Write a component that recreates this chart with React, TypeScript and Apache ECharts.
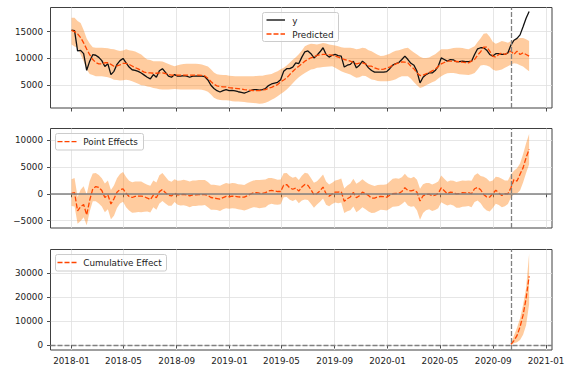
import React, { useEffect, useRef } from "react";
import * as echarts from "echarts";

// ---------- data (weekly, starting 2018-01-01) ----------
const START_DATE = "2018-01-01";
const INTERVENTION_DATE = "2020-10-12";
const X_TICK_LABELS = ["2018-01", "2018-05", "2018-09", "2019-01", "2019-05", "2019-09", "2020-01", "2020-05", "2020-09", "2021-01"];
const Y1_TICKS = [5000, 10000, 15000];
const Y2_TICKS = [-5000, 0, 5000, 10000];
const Y3_TICKS = [0, 10000, 20000, 30000];

const OBSERVED = [
  15300, 15200, 11400, 11500, 10900, 7800, 9500, 10700, 10600, 10200,
  9600, 8500, 9000, 7000, 7600, 8900, 9600, 10000, 9200, 8400,
  7900, 7800, 7600, 7300, 6900, 6500, 6200, 7000, 6500, 7700,
  8100, 7400, 6700, 6500, 7000, 6700, 6700, 6800, 6700, 6500,
  6700, 6700, 6750, 6700, 6600, 6000, 5000, 4400, 4000, 3750,
  4000, 4200, 4000, 4050, 3950, 3800, 3700, 3550, 3750, 4000,
  4200, 4200, 4100, 4200, 4400, 4950, 5250, 5400, 5550, 6050,
  7600, 8100, 8100, 8400, 9200, 9050, 10250, 11250, 11400, 10900,
  10100, 10600, 11250, 12000, 10750, 10250, 10600, 10750, 10550, 10450,
  8400, 8750, 8900, 9500, 8250, 8750, 9500, 9000, 8250, 7750,
  7450, 7450, 7450, 7450, 7550, 8100, 8750, 9050, 9250, 9800,
  10450, 9800, 9100, 8750, 7600, 5450, 6500, 7000, 7300, 7300,
  7750, 8550, 10100, 9800, 9500, 9800, 9750, 9400, 9400, 9500,
  9400, 9400, 9500, 10750, 11800, 12000, 12000, 11550, 10750, 10450,
  10900, 10900, 10750, 10750, 11050, 12500, 13400, 13750, 14400, 15900,
  17500, 18750,
];

const PREDICTED = [
  15250, 15000, 14600, 13900, 12900, 11750, 10700, 9800, 9250, 9000,
  9000, 9200, 9200, 8900, 8550, 8600, 8800, 9100, 9100, 8900,
  8600, 8300, 8050, 7750, 7450, 7300, 7300, 7250, 7250, 7300,
  7300, 7200, 7000, 6900, 6900, 6900, 6900, 6900, 6900, 6900,
  6900, 6900, 6900, 6850, 6750, 6300, 5700, 5200, 4900, 4750,
  4720, 4690, 4560, 4500, 4440, 4380, 4310, 4190, 4130, 4060,
  4030, 4000, 4000, 4130, 4190, 4440, 4630, 4880, 5130, 5630,
  6000, 6380, 7000, 7560, 8130, 8560, 9000, 9500, 9810, 10130,
  10310, 10560, 10690, 10750, 10750, 10690, 10630, 10440, 10250, 10060,
  9810, 9690, 9500, 9250, 9000, 9130, 9190, 9000, 8560, 8560,
  8250, 8060, 7940, 8000, 8190, 8380, 8750, 9000, 9190, 9380,
  9310, 9190, 8560, 8060, 7310, 6810, 6880, 7130, 7380, 7690,
  8000, 8500, 9000, 9250, 9500, 9500, 9500, 9440, 9380, 9310,
  9250, 9190, 9500, 9810, 10630, 11250, 12130, 12130, 11380, 10440,
  10250, 10750, 11060, 10750, 11060, 11380, 10750, 11380, 10750, 11060,
  10750, 10440,
];

const PRED_UPPER = [
  17600, 17600, 17000, 16600, 15300, 13700, 12800, 12100, 12000, 12000,
  12000, 11950, 11900, 11750, 11700, 11550, 11400, 11500, 11700, 11550,
  11450, 11300, 11000, 10750, 10250, 9800, 9700, 9500, 9500, 9500,
  9450, 9200, 8950, 8750, 8550, 8750, 8900, 8950, 9000, 9000,
  9000, 9000, 8950, 8900, 8700, 8500, 8000, 7400, 7050, 6950,
  6900, 6900, 6800, 6750, 6700, 6700, 6700, 6700, 6700, 6700,
  6700, 6750, 6800, 6800, 6900, 7000, 7100, 7400, 7600, 8000,
  8250, 8700, 9200, 9750, 10250, 10800, 11500, 12300, 12550, 12750,
  12700, 12600, 12750, 12900, 12800, 12600, 12500, 12400, 12300, 12100,
  12000, 12000, 12000, 11900, 11700, 11800, 12000, 11900, 11550, 11350,
  11000, 10700, 10450, 10500, 10700, 10900, 11200, 11450, 11550, 11700,
  11900, 12000, 11550, 11100, 10750, 10300, 10100, 10100, 10200, 10500,
  10800, 11250, 11700, 11700, 11700, 11800, 11950, 12000, 12000, 11950,
  11800, 11700, 12000, 12300, 13050, 13750, 14600, 14700, 14050, 13100,
  12750, 13000, 13250, 13100, 12950, 13200, 13500, 13700, 13800, 13800,
  13600, 13250,
];

const PRED_LOWER = [
  12600, 12250, 12000, 10750, 9500, 7950, 7100, 6900, 6700, 6700,
  6700, 6600, 6500, 6300, 6050, 6000, 5900, 5950, 6050, 5950,
  5750, 5500, 5300, 5000, 4950, 4800, 4700, 4500, 4400, 4250,
  4200, 4200, 4200, 4250, 4300, 4250, 4200, 4200, 4200, 4200,
  4200, 4200, 4200, 4150, 4050, 3800, 3300, 2700, 2400, 2250,
  2200, 2200, 2150, 2050, 2000, 2000, 1950, 1900, 1800, 1750,
  1700, 1650, 1550, 1600, 1750, 2000, 2300, 2600, 2950, 3400,
  3750, 4200, 4800, 5400, 6000, 6500, 6900, 7300, 7600, 7950,
  8050, 8250, 8300, 8400, 8450, 8500, 8550, 8250, 7950, 7600,
  7400, 7200, 7000, 6700, 6400, 6500, 6800, 6750, 6400, 6100,
  6000, 5800, 5750, 5750, 5750, 5800, 5950, 6150, 6450, 6700,
  6700, 6700, 6200, 5550, 5000, 4500, 4700, 5000, 5300, 5550,
  5800, 6250, 6700, 7000, 7250, 7300, 7300, 7200, 7050, 7000,
  6950, 6900, 7050, 7300, 7950, 8700, 8800, 8700, 8450, 7950,
  7700, 7800, 7950, 8250, 8550, 8900, 9100, 9000, 8750, 8500,
  8050, 7600,
];

// cumulative effect over the post-intervention weeks
const CUMULATIVE = [300, 1800, 3900, 7500, 12400, 19400, 28600];
const CUMULATIVE_UPPER = [600, 3900, 7200, 11000, 16600, 23700, 38000];
const CUMULATIVE_LOWER = [0, 700, 1100, 2100, 4200, 8200, 17000];

// ---------- helpers ----------
const DAY = 86400000;
const parseUTC = (s: string) => {
  const [y, m, d] = s.split("-").map(Number);
  return Date.UTC(y, m - 1, d || 1);
};
const START_TS = parseUTC(START_DATE);
const DATES = OBSERVED.map((_, i) => START_TS + i * 7 * DAY);
const INTERVENTION_TS = parseUTC(INTERVENTION_DATE);
const POST_START = DATES.findIndex((t) => t >= INTERVENTION_TS);
const POST_DATES = DATES.slice(POST_START);
const X_TICKS = X_TICK_LABELS.map((s) => parseUTC(s));

// point effects: observed minus prediction (and its interval)
const EFFECT = OBSERVED.map((v, i) => v - PREDICTED[i]);
const EFFECT_LOWER = OBSERVED.map((v, i) => v - PRED_UPPER[i]);
const EFFECT_UPPER = OBSERVED.map((v, i) => v - PRED_LOWER[i]);

const X_MIN = START_TS - 48.56 * DAY;
const X_MAX = START_TS + 1109.84 * DAY;

const FONT = "DejaVu Sans";
const FS = 8.8;
const TEXT_COLOR = "#222";
const GRID_COLOR = "#dfdfdf";
const BAND_COLOR = "rgba(255,127,14,0.4)";
const PRED_COLOR = "#ff4500";
const GRAY = "#808080";
const DASH = [5, 2];

const fmtY = (v: number) => (v < 0 ? "\u2212" + Math.abs(v) : String(v));

const pair = (xs: number[], ys: number[]) => xs.map((x, i) => [x, ys[i]]);

function xAxisFor(idx: number) {
  return {
    type: "value",
    gridIndex: idx,
    min: X_MIN,
    max: X_MAX,
    axisLine: { show: false },
    axisTick: { show: true, customValues: X_TICKS, length: 3.5, lineStyle: { color: TEXT_COLOR, width: 0.8 } },
    axisLabel: {
      show: idx === 2,
      customValues: X_TICKS,
      margin: 6,
      fontSize: FS,
      fontFamily: FONT,
      color: TEXT_COLOR,
      formatter: (v: number) => {
        const k = X_TICKS.indexOf(v);
        return k >= 0 ? X_TICK_LABELS[k] : "";
      },
    },
    splitLine: { show: true, lineStyle: { color: GRID_COLOR, width: 0.8 } },
  };
}

function yAxisFor(idx: number, min: number, max: number, ticks: number[]) {
  return {
    type: "value",
    gridIndex: idx,
    min,
    max,
    axisLine: { show: false },
    axisTick: { show: true, customValues: ticks, length: 3.5, lineStyle: { color: TEXT_COLOR, width: 0.8 } },
    axisLabel: {
      customValues: ticks,
      margin: 7.5,
      fontSize: FS,
      fontFamily: FONT,
      color: TEXT_COLOR,
      formatter: fmtY,
    },
    splitLine: { show: true, lineStyle: { color: GRID_COLOR, width: 0.8 } },
  };
}

// interval band drawn as one polygon through the axes' own scales
function bandSeries(idx: number, xs: number[], lo: number[], hi: number[]) {
  return {
    type: "custom",
    xAxisIndex: idx,
    yAxisIndex: idx,
    silent: true,
    z: 1,
    data: xs.map((x, i) => [x, lo[i], hi[i]]),
    encode: { x: 0, y: [1, 2] },
    renderItem: (params: any, api: any) => {
      if (params.dataIndex !== 0) return null;
      const top = xs.map((x, i) => api.coord([x, hi[i]]));
      const bottom = xs.map((x, i) => api.coord([x, lo[i]])).reverse();
      return {
        type: "polygon",
        shape: { points: top.concat(bottom) },
        style: { fill: BAND_COLOR, stroke: "none" },
      };
    },
  };
}

const vLine = { xAxis: INTERVENTION_TS, lineStyle: { color: GRAY, type: DASH, width: 1.3 } };

const legendText = (x: number, y: number, text: string) => ({
  type: "text",
  z: 100,
  x,
  y,
  style: { text, fill: TEXT_COLOR, font: `${FS}px "${FONT}"`, verticalAlign: "middle", textAlign: "left" },
});
const legendBox = (x: number, y: number, w: number, h: number) => ({
  type: "rect",
  z: 99,
  shape: { x, y, width: w, height: h, r: 2 },
  style: { fill: "rgba(255,255,255,0.8)", stroke: "#cccccc", lineWidth: 1 },
});
const legendLine = (x1: number, x2: number, y: number, color: string, dashed: boolean) => ({
  type: "line",
  z: 100,
  shape: { x1, y1: y, x2, y2: y },
  style: { stroke: color, lineWidth: 1.3, lineDash: dashed ? DASH : null },
});

const option: any = {
  animation: false,
  backgroundColor: "#ffffff",
  grid: [
    { left: 50.5, right: 28, top: 7.5, height: 100.5, show: true, borderColor: "#404040", borderWidth: 1, containLabel: false },
    { left: 50.5, right: 28, top: 128.5, height: 99.5, show: true, borderColor: "#404040", borderWidth: 1, containLabel: false },
    { left: 50.5, right: 28, top: 249.5, height: 100.5, show: true, borderColor: "#404040", borderWidth: 1, containLabel: false },
  ],
  xAxis: [xAxisFor(0), xAxisFor(1), xAxisFor(2)],
  yAxis: [
    yAxisFor(0, 770, 19500, Y1_TICKS),
    yAxisFor(1, -6400, 12200, Y2_TICKS),
    yAxisFor(2, -2100, 39750, Y3_TICKS),
  ],
  series: [
    // panel 1
    bandSeries(0, DATES, PRED_LOWER, PRED_UPPER),
    {
      name: "y",
      type: "line",
      xAxisIndex: 0,
      yAxisIndex: 0,
      data: pair(DATES, OBSERVED),
      symbol: "none",
      lineStyle: { color: "#111", width: 1.3 },
      z: 3,
      markLine: { symbol: "none", silent: true, label: { show: false }, data: [vLine] },
    },
    {
      name: "Predicted",
      type: "line",
      xAxisIndex: 0,
      yAxisIndex: 0,
      data: pair(DATES, PREDICTED),
      symbol: "none",
      lineStyle: { color: PRED_COLOR, width: 1.3, type: DASH },
      z: 4,
    },
    // panel 2
    bandSeries(1, DATES, EFFECT_LOWER, EFFECT_UPPER),
    {
      name: "Point Effects",
      type: "line",
      xAxisIndex: 1,
      yAxisIndex: 1,
      data: pair(DATES, EFFECT),
      symbol: "none",
      lineStyle: { color: PRED_COLOR, width: 1.3, type: DASH },
      z: 4,
      markLine: {
        symbol: "none",
        silent: true,
        label: { show: false },
        data: [vLine, { yAxis: 0, lineStyle: { color: GRAY, type: "solid", width: 1.5 } }],
      },
    },
    // panel 3
    bandSeries(2, POST_DATES, CUMULATIVE_LOWER, CUMULATIVE_UPPER),
    {
      name: "Cumulative Effect",
      type: "line",
      xAxisIndex: 2,
      yAxisIndex: 2,
      data: pair(POST_DATES, CUMULATIVE),
      symbol: "none",
      lineStyle: { color: PRED_COLOR, width: 1.3, type: DASH },
      z: 4,
      markLine: {
        symbol: "none",
        silent: true,
        label: { show: false },
        data: [vLine, { yAxis: 0, lineStyle: { color: GRAY, type: DASH, width: 1.3 } }],
      },
    },
  ],
  graphic: [
    legendBox(262.5, 12.5, 76, 29),
    legendLine(266.5, 285, 20, "#000", false),
    legendText(292.3, 20.5, "y"),
    legendLine(266.5, 285, 34, PRED_COLOR, true),
    legendText(292.3, 34.5, "Predicted"),

    legendBox(55.5, 133.5, 88, 16.5),
    legendLine(57.5, 76.5, 141.7, PRED_COLOR, true),
    legendText(83.3, 142, "Point Effects"),

    legendBox(55.5, 254.5, 111, 16.5),
    legendLine(57.5, 76.5, 262.5, PRED_COLOR, true),
    legendText(83.3, 263, "Cumulative Effect"),
  ],
};

export default function App() {
  const ref = useRef<HTMLDivElement>(null);
  useEffect(() => {
    if (!ref.current) return;
    const chart = echarts.init(ref.current, null, { renderer: "svg" });
    chart.setOption(option);
    return () => chart.dispose();
  }, []);
  return (
    <div
      ref={ref}
      style={{ position: "fixed", left: 0, top: 0, width: 580, height: 375, background: "#fff" }}
    />
  );
}
